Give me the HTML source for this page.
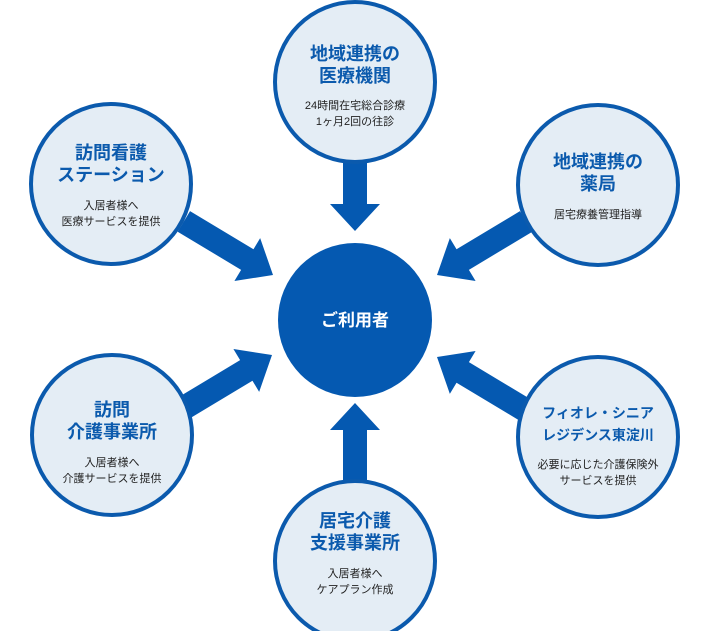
<!DOCTYPE html>
<html><head><meta charset="utf-8"><style>
body{margin:0;background:#fff}
svg{display:block}
.t{font-family:"Liberation Sans","Noto Sans CJK JP",sans-serif;font-weight:bold;fill:#0b5aad;font-size:18px;text-anchor:middle}
.s{font-family:"Liberation Sans","Noto Sans CJK JP",sans-serif;fill:#222;font-size:11px;text-anchor:middle}
.c{fill:#e4edf5;stroke:#0b5aad;stroke-width:4}
.a{fill:#0559b1}
</style></head><body>
<svg width="710" height="631" viewBox="0 0 710 631">
<g class="a">
<polygon points="343,158 367,158 367,204 380,204 355,231 330,204 343,204"/>
<polygon points="343,480 367,480 367,430 380,430 355,403 330,430 343,430"/>
<g transform="translate(273,275) rotate(31)"><polygon points="0,0 -30,-25 -30,-12 -104,-12 -104,12 -30,12 -30,25"/></g>
<g transform="translate(437,275) rotate(149)"><polygon points="0,0 -30,-25 -30,-12 -104,-12 -104,12 -30,12 -30,25"/></g>
<g transform="translate(272,355) rotate(-31)"><polygon points="0,0 -30,-25 -30,-12 -104,-12 -104,12 -30,12 -30,25"/></g>
<g transform="translate(437,357) rotate(-149)"><polygon points="0,0 -30,-25 -30,-12 -104,-12 -104,12 -30,12 -30,25"/></g>
</g>
<circle cx="355" cy="320" r="77" fill="#0559b1"/>
<text x="355" y="326" class="t" style="fill:#fff;font-size:17px">ご利用者</text>

<circle class="c" cx="355" cy="82" r="80"/>
<text x="355" y="60" class="t">地域連携の</text>
<text x="355" y="82" class="t">医療機関</text>
<text x="355" y="109" class="s">24時間在宅総合診療</text>
<text x="355" y="125" class="s">1ヶ月2回の往診</text>

<circle class="c" cx="111" cy="184" r="80"/>
<text x="111" y="159" class="t">訪問看護</text>
<text x="111" y="181" class="t">ステーション</text>
<text x="111" y="209" class="s">入居者様へ</text>
<text x="111" y="225" class="s">医療サービスを提供</text>

<circle class="c" cx="598" cy="185" r="80"/>
<text x="598" y="168" class="t">地域連携の</text>
<text x="598" y="190" class="t">薬局</text>
<text x="598" y="218" class="s">居宅療養管理指導</text>

<circle class="c" cx="112" cy="435" r="80"/>
<text x="112" y="416" class="t">訪問</text>
<text x="112" y="438" class="t">介護事業所</text>
<text x="112" y="466" class="s">入居者様へ</text>
<text x="112" y="482" class="s">介護サービスを提供</text>

<circle class="c" cx="598" cy="437" r="80"/>
<text x="598" y="418" class="t" style="font-size:14px">フィオレ・シニア</text>
<text x="598" y="440" class="t" style="font-size:14px">レジデンス東淀川</text>
<text x="598" y="468" class="s">必要に応じた介護保険外</text>
<text x="598" y="484" class="s">サービスを提供</text>

<circle class="c" cx="355" cy="561" r="80"/>
<text x="355" y="527" class="t">居宅介護</text>
<text x="355" y="549" class="t">支援事業所</text>
<text x="355" y="577" class="s">入居者様へ</text>
<text x="355" y="593" class="s">ケアプラン作成</text>
</svg>
</body></html>
